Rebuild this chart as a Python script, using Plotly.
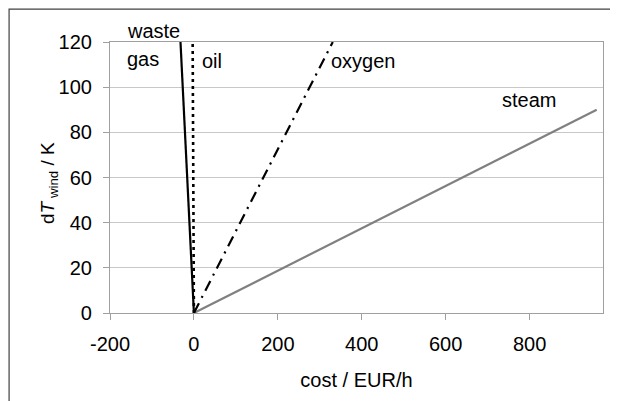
import plotly.graph_objects as go

# data
waste_x = [0, -32]
waste_y = [0, 120]
oil_x = [0, -3]
oil_y = [0, 120]
oxygen_x = [0, 331]
oxygen_y = [0, 120]
steam_x = [0, 960]
steam_y = [0, 90]

x_ticks = [-200, 0, 200, 400, 600, 800]
x_ticktext = ["-200", "0", "200", "400", "600", "800"]
y_ticks = [0, 20, 40, 60, 80, 100, 120]

FONT = "Liberation Sans, Arial, sans-serif"
X0, X1 = -200, 975

fig = go.Figure()
fig.add_trace(go.Scatter(x=steam_x, y=steam_y, mode="lines",
                         line=dict(color="#808080", width=2.2), cliponaxis=False))
fig.add_trace(go.Scatter(x=oxygen_x, y=oxygen_y, mode="lines",
                         line=dict(color="black", width=2.2, dash="11px,6px,2px,6px"), cliponaxis=False))
fig.add_trace(go.Scatter(x=oil_x, y=oil_y, mode="lines",
                         line=dict(color="black", width=2.6, dash="3px,4px"), cliponaxis=False))
fig.add_trace(go.Scatter(x=waste_x, y=waste_y, mode="lines",
                         line=dict(color="black", width=2.2), cliponaxis=False))

labels = [("waste", -165, 125), ("gas", -165, 112.6), ("oil", 13.6, 111.4),
          ("oxygen", 321, 111.4), ("steam", 730, 94.5)]
for t, lx, ly in labels:
    fig.add_annotation(xref="paper", yref="paper",
                       x=(lx - X0) / (X1 - X0), y=ly / 120, text=t, showarrow=False,
                       xanchor="left", yanchor="middle",
                       font=dict(family=FONT, size=20, color="black"))

fig.add_annotation(xref="paper", yref="paper", x=-0.152, y=0.48,
                   text="d<i>T</i><sub> wind</sub> / K", textangle=-90, showarrow=False,
                   font=dict(family=FONT, size=19, color="black"))

fig.add_shape(type="rect", xref="paper", yref="paper", x0=-0.2047, x1=1.2, y0=-0.5, y1=1.1216,
              line=dict(color="#404040", width=1.2), layer="below")

fig.update_layout(
    width=610, height=393,
    margin=dict(l=102, r=14.7, t=34, b=87.7, autoexpand=False),
    paper_bgcolor="white", plot_bgcolor="white",
    showlegend=False,
    font=dict(family=FONT, size=20, color="black"),
    xaxis=dict(range=[X0, X1], tickvals=x_ticks, ticktext=x_ticktext, showgrid=False, zeroline=False,
               showline=True, linecolor="#a0a0a0", linewidth=1.2, mirror=True, automargin=False,
               ticks="outside", ticklen=6, tickcolor="#a0a0a0", ticklabelstandoff=7,
               title=dict(text="cost / EUR/h", standoff=18, font=dict(size=20))),
    yaxis=dict(range=[0, 120], tickvals=y_ticks, showgrid=True, gridcolor="#c8c8c8", gridwidth=1,
               zeroline=False, showline=True, linecolor="#a0a0a0", linewidth=1.2, mirror=True,
               automargin=False, ticks="outside", ticklen=6, tickcolor="#a0a0a0",
               ticklabelstandoff=7),
)

fig.write_html("out.html")
